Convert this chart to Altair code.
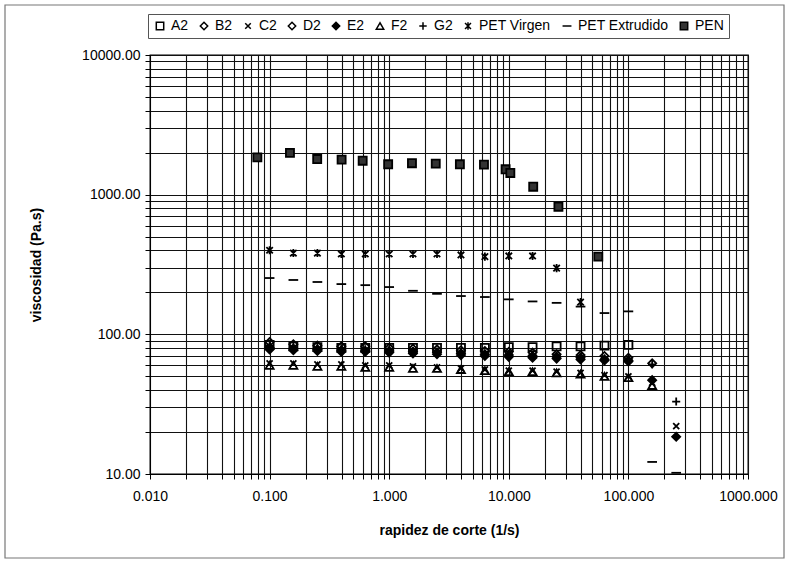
import altair as alt
import pandas as pd

# ---- data ----
rates = [0.1, 0.158, 0.251, 0.398, 0.631, 1.0, 1.58, 2.51, 3.98, 6.31,
         10.0, 15.8, 25.1, 39.8, 63.1, 100.0, 158.0, 251.0]

A2 = [84, 82, 81, 80, 80, 80, 80, 80, 80, 80, 81, 81, 82, 82, 83, 84]
B2 = [88, 85, 83, 82, 82, 80, 79, 78, 77, 76, 75, 74, 72, 71, 70, 68, 62]
C2 = [62, 62, 61, 61, 60, 60, 59, 58, 57, 56, 55, 55, 54, 53, 51, 50, 45, 22]
D2 = [80, 79, 78, 77, 76, 76, 75, 74, 73, 72, 71, 70, 69, 68, 66, 65]
E2 = [78, 77, 76, 75, 75, 74, 73, 72, 71, 70, 69, 68, 67, 66, 65, 64, 47, 18.5]
F2 = [60, 60, 59, 59, 58, 58, 57, 57, 56, 55, 54, 54, 53, 52, 50, 49, 43]
G2 = [83, 81, 80, 79, 78, 77, 76, 75, 74, 73, 72, 71, 70, 69, 67, 66, 61, 33]
PET_virgen = [400, 382, 382, 376, 376, 376, 376, 376, 370, 360, 364, 364, 298, 170]
PET_extrudido = [253, 245, 237, 229, 225, 218, 205, 195, 188, 185, 178, 172, 168,
                 158, 142, 146, 12.2, 10.2]

pen_rates = [0.079, 0.148, 0.25, 0.40, 0.60, 0.98, 1.55, 2.45, 3.9, 6.2,
             9.4, 10.3, 16.0, 26.0, 56.0]
PEN = [1850, 1990, 1800, 1780, 1750, 1650, 1680, 1670, 1650, 1640,
       1520, 1430, 1140, 820, 360]

series_order = ["A2", "B2", "C2", "D2", "E2", "F2", "G2",
                "PET Virgen", "PET Extrudido", "PEN"]

rows = []
for name, vals in [("A2", A2), ("B2", B2), ("C2", C2), ("D2", D2), ("E2", E2),
                   ("F2", F2), ("G2", G2), ("PET Virgen", PET_virgen),
                   ("PET Extrudido", PET_extrudido)]:
    for r, v in zip(rates, vals):
        rows.append({"serie": name, "rate": r, "visc": v})
for r, v in zip(pen_rates, PEN):
    rows.append({"serie": "PEN", "rate": r, "visc": v})
df = pd.DataFrame(rows)

# ---- styling ----
X_PATH = "M-0.75,-0.75L0.75,0.75M-0.75,0.75L0.75,-0.75"
PLUS_PATH = "M-1,0L1,0M0,-1L0,1"
STAR_PATH = "M-0.8,-0.8L0.8,0.8M-0.8,0.8L0.8,-0.8M0,-1L0,1"
DASH_PATH = "M-1.2,0L1.2,0"
shapes = ["square", "diamond", X_PATH, "diamond", "diamond", "triangle-up",
          PLUS_PATH, STAR_PATH, DASH_PATH, "square"]
fills = ["transparent", "transparent", "transparent", "transparent", "black",
         "transparent", "transparent", "transparent", "transparent", "#333333"]
strokes = ["black"] * 10

x_ticks = [m * 10.0 ** e for e in range(-2, 3) for m in range(1, 10)] + [1000.0]
y_ticks = [m * 10.0 ** e for e in range(1, 4) for m in range(1, 10)] + [10000.0]

FONT = "Liberation Sans"
major_expr = ("abs(log(datum.value)/LN10 - round(log(datum.value)/LN10)) < 0.001"
              " ? format(datum.value, '{f}') : ''")

axis_style = dict(grid=True, gridColor="#111111", gridWidth=1.1, gridOpacity=1,
                  domainColor="black", tickColor="black", tickSize=5,
                  labelFont=FONT, labelFontSize=14, labelColor="black",
                  titleFont=FONT, titleFontSize=14, titleFontWeight="bold",
                  titleColor="black", labelOverlap=False, labelFlush=False)

legend = alt.Legend(title=None, orient="none", legendX=-2, legendY=-41,
                    direction="horizontal", columns=10, columnPadding=8,
                    strokeColor="#555555", padding=5, labelFont=FONT,
                    labelFontSize=14, labelColor="black", symbolSize=55,
                    symbolStrokeWidth=1.5, symbolOffset=0, labelOffset=4)

points = alt.Chart(df).mark_point(size=65, strokeWidth=1.8, opacity=1).encode(
    x=alt.X("rate:Q",
            scale=alt.Scale(type="log", domain=[0.01, 1000], nice=False),
            axis=alt.Axis(values=x_ticks, labelExpr=major_expr.format(f=".3f"),
                          title="rapidez de corte (1/s)", titlePadding=20,
                          labelPadding=10, **axis_style)),
    y=alt.Y("visc:Q",
            scale=alt.Scale(type="log", domain=[10, 10000], nice=False),
            axis=alt.Axis(values=y_ticks, labelExpr=major_expr.format(f=".2f"),
                          title="viscosidad (Pa.s)", titlePadding=38,
                          labelPadding=5, **axis_style)),
    shape=alt.Shape("serie:N", scale=alt.Scale(domain=series_order, range=shapes),
                    legend=legend),
    fill=alt.Fill("serie:N", scale=alt.Scale(domain=series_order, range=fills),
                  legend=legend),
    stroke=alt.Stroke("serie:N", scale=alt.Scale(domain=series_order, range=strokes),
                      legend=legend),
)

W, H = 598, 419
frame = alt.Chart(pd.DataFrame({"a": [0]})).mark_rect(
    fill="transparent", stroke="#777777", strokeWidth=1.2).encode(
    x=alt.value(-145), x2=alt.value(W + 36), y=alt.value(-50), y2=alt.value(H + 84))

chart = alt.layer(points, frame).properties(
    width=W, height=H,
    background="white",
    autosize=alt.AutoSizeParams(type="none"),
    padding={"left": 150, "top": 55, "right": 41, "bottom": 92},
).configure_view(stroke="black", strokeWidth=1.3)

chart.save("out.html", embed_options={"renderer": "svg", "actions": False})
